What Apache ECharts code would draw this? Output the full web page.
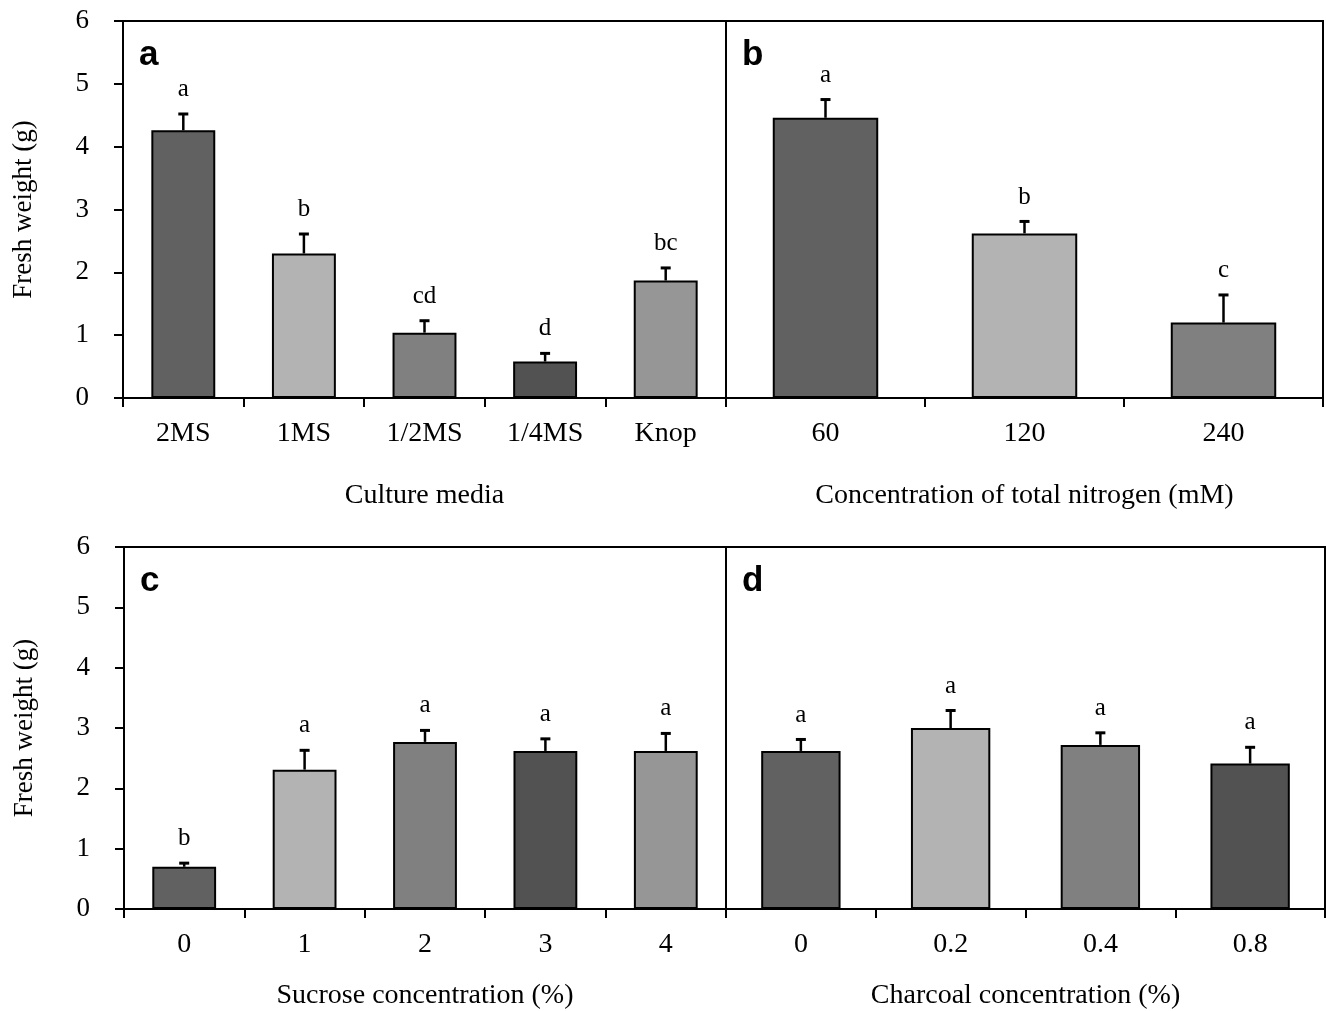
<!DOCTYPE html>
<html>
<head>
<meta charset="utf-8">
<script src="https://cdn.jsdelivr.net/npm/echarts@6/dist/echarts.min.js"></script>
<style>
html,body{margin:0;padding:0;background:#fff;}
#chart{width:1326px;height:1011px;}
</style>
</head>
<body>
<div id="chart"></div>
<script>
// ---- data ----
var catsA = ['2MS', '1MS', '1/2MS', '1/4MS', 'Knop'];
var valsA = [4.26, 2.30, 1.04, 0.58, 1.87];
var errA = [0.26, 0.31, 0.19, 0.13, 0.20];
var sigA = ['a', 'b', 'cd', 'd', 'bc'];

var catsB = ['60', '120', '240'];
var valsB = [4.46, 2.62, 1.20];
var errB = [0.29, 0.19, 0.44];
var sigB = ['a', 'b', 'c'];

var catsC = ['0', '1', '2', '3', '4'];
var valsC = [0.70, 2.31, 2.77, 2.62, 2.62];
var errC = [0.06, 0.32, 0.19, 0.20, 0.29];
var sigC = ['b', 'a', 'a', 'a', 'a'];

var catsD = ['0', '0.2', '0.4', '0.8'];
var valsD = [2.62, 3.00, 2.72, 2.41];
var errD = [0.19, 0.29, 0.20, 0.27];
var sigD = ['a', 'a', 'a', 'a'];

var yTicks = ['0', '1', '2', '3', '4', '5', '6'];

// fill colours by bar
var colA = ['#616161', '#b3b3b3', '#808080', '#525252', '#969696'];
var colB = ['#616161', '#b3b3b3', '#808080'];
var colC = ['#616161', '#b3b3b3', '#808080', '#525252', '#969696'];
var colD = ['#616161', '#b3b3b3', '#808080', '#525252'];

var panels = [
  {cats: catsA, vals: valsA, err: errA, sig: sigA, col: colA, name: 'Culture media', letter: 'a',
   grid: {left: 123, top: 21, width: 603, height: 377}, yLabels: true, nameGap: 84},
  {cats: catsB, vals: valsB, err: errB, sig: sigB, col: colB, name: 'Concentration of total nitrogen (mM)', letter: 'b',
   grid: {left: 726, top: 21, width: 597, height: 377}, yLabels: false, nameGap: 84},
  {cats: catsC, vals: valsC, err: errC, sig: sigC, col: colC, name: 'Sucrose concentration (%)', letter: 'c',
   grid: {left: 124, top: 547, width: 602, height: 363}, yLabels: true, nameGap: 73},
  {cats: catsD, vals: valsD, err: errD, sig: sigD, col: colD, name: 'Charcoal concentration (%)', letter: 'd',
   grid: {left: 726, top: 547, width: 599, height: 363}, yLabels: false, nameGap: 73}
];

var serif = '"Liberation Serif", "Times New Roman", serif';
var grids = [], xAxes = [], yAxes = [], series = [], titles = [];

panels.forEach(function (p, i) {
  grids.push(Object.assign({show: true, borderColor: '#000', borderWidth: 2, backgroundColor: 'transparent'}, p.grid));
  titles.push({
    text: p.letter, left: p.grid.left + 11, top: p.grid.top + 12,
    textStyle: {fontFamily: '"Liberation Sans", Arial, sans-serif', fontWeight: 'bold', fontSize: 35, color: '#000'}
  });
  xAxes.push({
    type: 'category', gridIndex: i, data: p.cats,
    name: p.name, nameLocation: 'middle', nameGap: p.nameGap,
    nameTextStyle: {fontFamily: serif, fontSize: 28, color: '#000'},
    axisLine: {lineStyle: {color: '#000', width: 2}},
    axisTick: {show: true, length: 9, lineStyle: {color: '#000', width: 2}},
    axisLabel: {fontFamily: serif, fontSize: 28, color: '#000', margin: 22},
    splitLine: {show: false}
  });
  yAxes.push({
    type: 'value', gridIndex: i, min: 0, max: 6, interval: 1,
    name: p.yLabels ? 'Fresh weight (g)' : '', nameLocation: 'middle', nameGap: 86,
    nameTextStyle: {fontFamily: serif, fontSize: 27, color: '#000'},
    axisLine: {show: true, lineStyle: {color: '#000', width: 2}},
    axisTick: {show: p.yLabels, length: 9, lineStyle: {color: '#000', width: 2}},
    axisLabel: {show: p.yLabels, fontFamily: serif, fontSize: 27, color: '#000', margin: 34,
      formatter: function (v) { return yTicks[Math.round(v)]; }},
    splitLine: {show: false}
  });
  series.push({
    type: 'bar', xAxisIndex: i, yAxisIndex: i, barWidth: '53%',
    data: p.vals.map(function (v, k) {
      return {value: v, itemStyle: {color: p.col[k]}};
    }),
    itemStyle: {borderColor: '#000', borderWidth: 2},
    emphasis: {disabled: true},
    z: 2
  });
  series.push({
    type: 'custom', xAxisIndex: i, yAxisIndex: i,
    data: p.vals.map(function (v, k) { return [k, v, v + p.err[k], p.sig[k]]; }),
    renderItem: function (params, api) {
      var k = api.value(0);
      var base = api.coord([k, api.value(1)]);
      var top = api.coord([k, api.value(2)]);
      var lab = p.sig[params.dataIndex];
      return {
        type: 'group',
        children: [
          {type: 'line', shape: {x1: base[0], y1: base[1], x2: top[0], y2: top[1]},
           style: {stroke: '#000', lineWidth: 2.5}},
          {type: 'line', shape: {x1: top[0] - 5, y1: top[1], x2: top[0] + 5, y2: top[1]},
           style: {stroke: '#000', lineWidth: 3}},
          {type: 'text', x: top[0], y: top[1] - 12,
           style: {text: lab, fill: '#000', font: '25px ' + serif, textAlign: 'center', textVerticalAlign: 'bottom'}}
        ]
      };
    },
    z: 3
  });
});

var chart = echarts.init(document.getElementById('chart'), null, {renderer: 'canvas'});
chart.setOption({
  animation: false,
  backgroundColor: '#fff',
  title: titles,
  grid: grids,
  xAxis: xAxes,
  yAxis: yAxes,
  series: series
});
</script>
</body>
</html>
